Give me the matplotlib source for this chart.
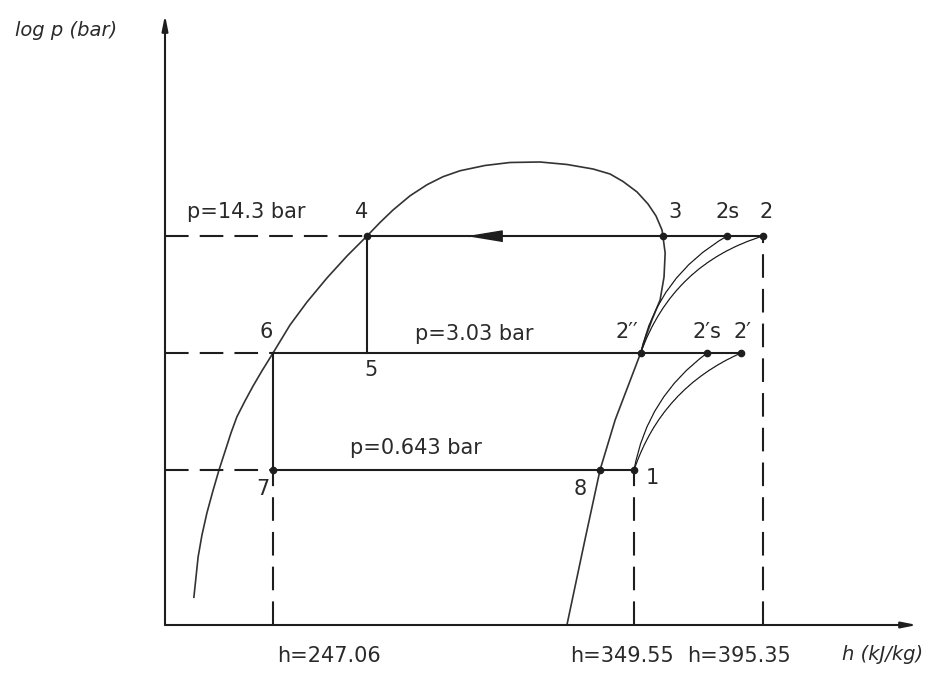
import numpy as np
import matplotlib
matplotlib.use("Agg")
import matplotlib.pyplot as plt

# isobars (bar)
P_HIGH = 14.3
P_MID = 3.03
P_LOW = 0.643

# enthalpies written under the h axis (kJ/kg)
H_TICKS = [247.06, 349.55, 395.35]

# state points of the cycle
POINT_NAMES = ["1", "2", "2s", "2''", "2's", "2'", "3", "4", "5", "6", "7", "8"]
POINT_H = [349.55, 395.35, 382.6, 351.9, 375.5, 387.5, 359.8, 273.75, 273.75, 247.06, 247.06, 339.9]
POINT_P = [P_LOW, P_HIGH, P_HIGH, P_MID, P_MID, P_MID, P_HIGH, P_HIGH, P_MID, P_MID, P_LOW, P_LOW]
DOTTED = ["1", "2", "2s", "2''", "2's", "2'", "3", "4", "7", "8"]

# saturation curve (liquid branch -> top -> vapour branch)
DOME_H = [224.6, 225.8, 226.9, 228.3, 230.0, 231.73, 233.57, 235.13, 236.8, 239.1,
          241.4, 243.9, 247.06, 251.89, 256.71, 262.39, 268.07, 273.75, 277.44, 281.13,
          285.96, 290.79, 295.33, 300.15, 307.25, 314.35, 322.87, 330.54, 337.92, 342.74,
          346.43, 350.62, 354.52, 357.36, 359.49, 359.8, 360.6, 360.2, 358.8, 355.9,
          354.2, 351.9, 344.2, 339.9, 335.6, 330.5]
DOME_P = [0.119, 0.203, 0.272, 0.364, 0.487, 0.643, 0.838, 1.050, 1.30, 1.605,
          1.957, 2.388, 3.03, 4.395, 5.96, 8.20, 10.97, 14.3, 17.10, 20.18,
          24.36, 28.22, 31.38, 33.95, 36.41, 37.88, 38.13, 36.89, 34.75, 32.53,
          29.45, 25.63, 21.85, 18.64, 15.48, 14.3, 11.41, 8.31, 6.12, 4.70,
          3.95, 3.03, 1.25, 0.643, 0.254, 0.0824]

# compression paths (start, end)
COMPRESSIONS = [("2''", "2s"), ("2''", "2"), ("1", "2's"), ("1", "2'")]
ARROW_H = 307.2  # flow arrow on the condensation line

pt = {n: (h, p) for n, h, p in zip(POINT_NAMES, POINT_H, POINT_P)}

# the diagram is not to scale: h axis stretched piecewise between the marked values
H_KNOTS = [0.0, 247.06, 349.55, 395.35, 1000.0]
U_KNOTS = [-247.06 * 3.522, 0.0, 361.0, 490.0, 490.0 + 604.65 * 2.817]


def fwd(h):
    return np.interp(h, H_KNOTS, U_KNOTS)


def inv(u):
    return np.interp(u, U_KNOTS, H_KNOTS)


INK = "#1e1e1e"
TXT = "#2a2a2a"
plt.rcParams["lines.scale_dashes"] = False
DASH = (0, (17, 8))

fig = plt.figure(figsize=(9.36, 6.73), dpi=100)
ax = fig.add_axes([165 / 936, (673 - 625) / 673, (917 - 165) / 936, (625 - 15) / 673])
ax.set_xscale("function", functions=(fwd, inv))
ax.set_yscale("log")
ax.set_xlim(216.4, 450.0)
ax.set_ylim(0.0824, 267.6)
for s in ax.spines.values():
    s.set_visible(False)
ax.set_xticks([])
ax.set_yticks([])
ax.minorticks_off()

# axes with arrow heads
for end in [(0, 1), (1, 0)]:
    ax.annotate("", xy=end, xytext=(0, 0), xycoords="axes fraction",
                arrowprops=dict(arrowstyle="-|>,head_length=0.9,head_width=0.18",
                                lw=1.5, color=INK, shrinkA=0, shrinkB=0))

h0 = ax.get_xlim()[0]
p0 = ax.get_ylim()[0]

# saturation dome
ax.plot(DOME_H, DOME_P, color="#333333", lw=1.2)

# isobars: dashed to the axis, solid along the cycle
ax.plot([h0, pt["4"][0]], [P_HIGH] * 2, color=INK, lw=1.5, ls=DASH)
ax.plot([pt["4"][0], pt["2"][0]], [P_HIGH] * 2, color=INK, lw=1.5)
ax.plot([h0, pt["6"][0]], [P_MID] * 2, color=INK, lw=1.5, ls=DASH)
ax.plot([pt["6"][0], pt["2'"][0]], [P_MID] * 2, color=INK, lw=1.5)
ax.plot([h0, pt["7"][0]], [P_LOW] * 2, color=INK, lw=1.5, ls=DASH)
ax.plot([pt["7"][0], pt["1"][0]], [P_LOW] * 2, color=INK, lw=1.5)

# throttling lines
ax.plot([pt["4"][0], pt["5"][0]], [pt["4"][1], pt["5"][1]], color=INK, lw=1.5)
ax.plot([pt["6"][0], pt["7"][0]], [pt["6"][1], pt["7"][1]], color=INK, lw=1.5)

# projections to the h axis
for n in ["7", "1", "2"]:
    ax.plot([pt[n][0]] * 2, [p0, pt[n][1]], color=INK, lw=1.5, ls=DASH)

# compression curves
rads = {("2''", "2s"): -0.22, ("2''", "2"): -0.25, ("1", "2's"): -0.2, ("1", "2'"): -0.22}
for a, b in COMPRESSIONS:
    ax.annotate("", xy=pt[b], xytext=pt[a],
                arrowprops=dict(arrowstyle="-", color=INK, lw=0.9, ls=(0, (2, 0.6)),
                                shrinkA=0, shrinkB=0,
                                connectionstyle=f"arc3,rad={rads[(a, b)]}"))

# flow direction arrow
ax.plot(ARROW_H, P_HIGH, marker=[(-1, 0), (1, 0.33), (1, -0.33)], ms=24, color=INK)

# state point dots
ax.plot([pt[n][0] for n in DOTTED], [pt[n][1] for n in DOTTED], "o", ms=4.5, color=INK)

# state point labels (offsets in points)
label_off = {"1": (13, -6), "2": (2, 17), "2s": (0, 17), "2''": (-10, 15), "2's": (0, 15),
             "2'": (1, 15), "3": (9, 17), "4": (-4, 17), "5": (3, -12), "6": (-5, 15),
             "7": (-7, -14), "8": (-14, -14)}
for n, (dx, dy) in label_off.items():
    lab = n.replace("''", "\u2032\u2032").replace("'", "\u2032")
    ax.annotate(lab, xy=pt[n], xytext=(dx, dy), textcoords="offset points",
                ha="center", va="center", fontsize=15, color=TXT)

# isobar labels
ax.annotate(f"p={P_HIGH} bar", xy=(h0, P_HIGH), xytext=(16, 17), textcoords="offset points",
            ha="left", va="center", fontsize=15, color=TXT)
ax.annotate(f"p={P_MID} bar", xy=(h0, P_MID), xytext=(180, 14), textcoords="offset points",
            ha="left", va="center", fontsize=15, color=TXT)
ax.annotate(f"p={P_LOW} bar", xy=(h0, P_LOW), xytext=(133, 16), textcoords="offset points",
            ha="left", va="center", fontsize=15, color=TXT)

# h values under the axis
tick_off = [40, -9, -17]
for h, dx in zip(H_TICKS, tick_off):
    ax.annotate(f"h={h}", xy=(h, p0), xytext=(dx, -22), textcoords="offset points",
                ha="center", va="center", fontsize=15, color=TXT)

fig.text(842 / 936, 1 - 655 / 673, "h (kJ/kg)", ha="left", va="center",
         fontsize=14, style="italic", color=TXT)
fig.text(15 / 936, 1 - 30 / 673, "log p (bar)", ha="left", va="center",
         fontsize=14, style="italic", color=TXT)

fig.savefig("out.png", dpi=100)
